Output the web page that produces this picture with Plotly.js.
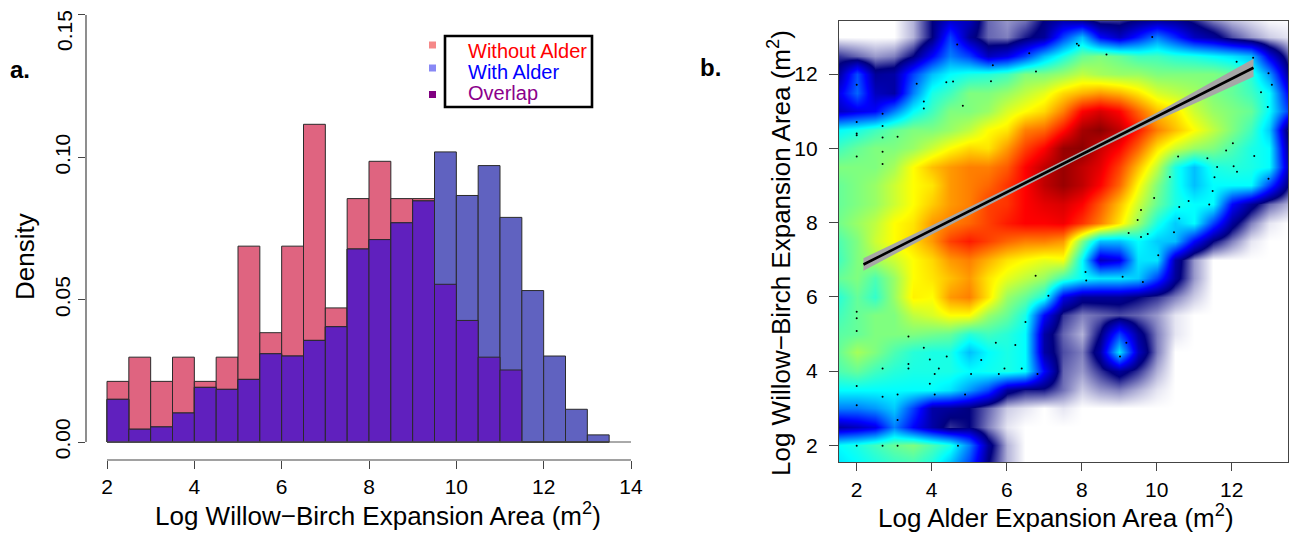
<!DOCTYPE html>
<html>
<head>
<meta charset="utf-8">
<script src="https://cdn.plot.ly/plotly-3.0.1.min.js"></script>
<style>
html,body{margin:0;padding:0;background:#fff;}
#chart{width:1289px;height:533px;}
</style>
</head>
<body>
<div id="chart"></div>
<script>
// ---------- Panel a: histogram data ----------
const binCenters = [2.25,2.75,3.25,3.75,4.25,4.75,5.25,5.75,6.25,6.75,7.25,7.75,8.25,8.75,9.25,9.75,10.25,10.75,11.25,11.75,12.25,12.75,13.25];
const withoutAlder = [0.0213,0.0298,0.0213,0.0298,0.0213,0.0298,0.0688,0.0384,0.0688,0.1116,0.0471,0.0855,0.0986,0.0855,0.0855,0.0554,0.0427,0.0298,0.0253,0,0,0,0];
const withAlder = [0.0150,0.0045,0.0053,0.0102,0.0192,0.0185,0.0220,0.0310,0.0302,0.0357,0.0405,0.0678,0.0711,0.0770,0.0847,0.1019,0.0866,0.0971,0.0789,0.0532,0.0302,0.0115,0.0025];
const histXTicks = [2,4,6,8,10,12,14];
const histYTicks = [0,0.05,0.10,0.15];
const histYTickText = ['0.00','0.05','0.10','0.15'];
const legendLabels = ['Without Alder','With Alder','Overlap'];

// ---------- Panel b: smoothed density (colour level) ----------
const gridX = [1.5,2,2.5,3,3.5,4,4.5,5,5.5,6,6.5,7,7.5,8,8.5,9,9.5,10,10.5,11,11.5,12,12.5,13,13.5];
const gridY = [1.5,2,2.5,3,3.5,4,4.5,5,5.5,6,6.5,7,7.5,8,8.5,9,9.5,10,10.5,11,11.5,12,12.5,13,13.5];
const densityLevel = [
 [3.8,4.0,4.2,4.4,4.5,4.2,3.5,2.5,1.0,0.3,0,0,0, 0,0,0,0,0,0,0,0,0,0,0,0],
 [4.0,4.2,4.5,4.8,5.0,4.6,4.2,3.0,1.2,0.3,0,0,0, 0,0,0,0,0,0,0,0,0,0,0,0],
 [1.3,1.5,1.8,3.0,2.0,1.3,0.8,1.0,0.5,0.1,0,0,0, 0,0,0,0,0,0,0,0,0,0,0,0],
 [3.0,3.0,3.2,3.6,2.5,1.3,1.2,1.0,0.6,0.2,0.1,0,0.1, 0,0,0,0,0,0,0,0,0,0,0,0],
 [4.0,4.0,4.0,4.0,4.0,4.0,3.8,3.2,2.5,1.2,0.9,0.9,0.55, 0.2,0.4,0.5,0.3,0.1,0,0,0,0,0,0,0],
 [4.6,4.8,4.5,4.3,4.2,4.2,4.2,4.0,4.1,4.2,4.0,2.0,0.6, 0.4,0.8,1.2,0.8,0.3,0,0,0,0,0,0,0],
 [4.8,5.3,5.0,4.6,4.3,4.2,4.2,3.5,4.0,4.2,4.0,1.3,0.7, 0.5,1.3,3.8,1.5,0.5,0,0,0,0,0,0,0],
 [4.7,4.8,5.0,5.0,5.0,4.9,4.8,4.3,4.5,4.3,4.0,1.3,0.6, 0.3,1.0,2.5,1.2,0.5,0.1,0,0,0,0,0,0],
 [4.5,4.8,5.0,5.0,5.5,5.7,6.0,6.0,5.2,4.8,4.2,2.0,0.8, 0.5,0.6,0.7,0.6,0.4,0.1,0,0,0,0,0,0],
 [4.3,4.8,4.4,5.2,6.1,6.0,6.8,7.0,6.2,5.2,4.8,4.2,1.8, 1.2,1.2,1.2,1.0,0.8,0.5,0.2,0,0,0,0,0],
 [4.8,5.0,4.6,5.2,6.0,6.2,6.5,6.8,6.2,5.8,5.5,5.2,4.5, 4.0,3.8,3.8,3.6,2.5,1.2,0.4,0,0,0,0,0],
 [4.5,5.0,5.3,5.6,6.0,6.3,6.8,7.0,6.6,6.2,6.0,5.8,5.9, 4.0,1.5,1.8,3.8,3.8,1.3,0.4,0,0,0,0,0],
 [4.6,5.0,5.6,6.0,6.3,6.8,7.5,7.8,7.5,7.2,7.0,7.0,6.8, 5.0,3.5,3.5,4.0,3.6,3.5,2.0,1.0,0.5,0.1,0,0],
 [4.9,5.2,5.5,6.0,6.2,6.8,7.0,7.2,7.5,7.8,8.0,8.0,8.1, 7.6,7.0,6.2,5.2,4.2,3.6,4.0,2.5,1.2,0.5,0.1,0],
 [4.8,5.0,5.2,5.6,6.0,6.4,6.8,7.0,7.5,7.6,8.0,8.2,8.3, 8.0,7.3,6.5,5.6,4.8,4.2,4.0,4.0,2.0,1.2,0.6,0.3],
 [4.8,5.0,5.2,5.6,6.0,6.2,6.8,7.0,7.2,7.6,8.0,8.5,8.8, 8.5,8.0,7.2,6.0,5.0,4.2,3.5,4.0,4.0,4.0,2.5,1.0],
 [5.0,5.0,5.0,5.3,6.0,6.5,6.8,7.0,7.0,7.3,8.0,8.5,8.8, 8.5,8.2,7.5,6.5,5.5,4.2,3.5,4.2,4.3,4.2,4.0,1.5],
 [4.5,4.8,5.0,5.0,5.2,5.6,6.0,6.3,6.2,6.8,7.5,8.0,8.8, 8.9,8.4,8.0,7.2,6.2,5.6,5.2,5.0,4.6,4.2,4.0,1.2],
 [4.0,4.2,4.5,4.8,5.0,5.0,5.2,5.5,6.0,6.2,7.0,7.2,7.9, 8.7,8.9,8.5,7.8,7.0,6.5,6.0,5.5,5.0,4.5,3.6,0.8],
 [1.5,1.8,2.0,3.0,4.0,4.5,5.0,5.0,5.2,5.7,6.0,6.3,7.0, 8.0,8.3,8.0,7.2,6.5,6.2,5.6,5.2,5.0,4.8,4.0,2.5],
 [1.8,2.8,1.5,1.3,3.0,4.2,4.5,5.0,5.0,5.2,5.5,5.8,6.3, 6.6,6.8,6.6,6.2,5.7,5.5,5.3,5.0,4.8,4.5,4.0,2.0],
 [1.2,2.6,1.2,1.3,2.5,3.5,4.0,4.2,4.3,4.5,5.0,5.0,5.2, 5.5,5.3,5.2,5.2,5.0,5.0,5.0,5.0,4.8,4.3,3.2,1.2],
 [0.8,0.6,0.4,0.5,1.0,2.0,3.0,2.5,1.5,1.8,2.5,3.5,4.2, 4.8,5.0,4.8,4.5,4.5,4.3,4.2,4.0,3.8,3.5,1.8,0.7],
 [0,0,0,0,0.3,1.0,2.5,1.2,0.6,0.5,0.9,1.2,2.5, 3.5,2.0,1.5,2.2,3.0,2.3,1.5,1.2,0.7,0.4,0.2,0.1],
 [0,0,0,0,0.3,1.0,1.5,1.5,0.6,0.4,0.5,1.0,1.2, 0.9,0.6,0.7,0.9,1.0,1.0,0.8,0.4,0.2,0.1,0,0]
];
// outlying points shown by the smoothed scatter
const ptX = [4.68,2.00,3.60,4.39,4.57,5.63,6.60,6.78,5.58,3.79,3.79,4.83,2.69,2.00,2.69,2.00,2.00,2.69,3.09,2.69,2.00,2.69,
 9.88,7.87,7.92,8.66,12.13,12.57,12.98,13.07,12.78,12.96,12.03,11.85,12.60,10.57,11.35,11.61,12.05,12.14,10.35,11.54,12.98,11.49,10.85,9.93,11.40,10.60,9.58,10.60,9.49,9.25,9.58,9.76,10.46,
 6.77,7.11,2.00,2.00,2.00,6.50,3.38,5.71,6.23,3.79,4.40,3.95,5.32,2.69,3.38,3.38,4.19,4.08,5.05,5.79,5.94,6.40,6.82,3.95,2.00,2.69,3.09,4.08,4.89,2.00,3.09,2.00,2.69,3.09,4.70,
 10.04,8.10,8.12,9.09,9.63,9.19,9.02];
const ptY = [12.80,11.71,11.74,11.78,11.80,12.24,12.56,12.07,11.81,11.26,11.07,11.15,10.93,10.71,10.60,10.40,10.35,10.29,10.31,9.91,9.78,9.58,
 13.00,12.82,12.77,12.53,12.33,12.44,12.02,11.71,11.51,11.11,10.14,9.94,9.79,9.78,9.73,9.50,9.52,9.37,9.23,9.22,9.18,8.85,8.58,8.66,8.49,8.42,8.34,8.11,8.07,7.72,7.61,7.69,7.74,
 6.57,6.03,5.60,5.42,5.08,5.32,4.93,4.76,4.70,4.63,4.39,4.31,4.30,4.07,4.19,4.07,4.07,3.92,3.92,3.92,4.07,4.07,3.92,3.66,3.60,3.31,3.37,3.37,3.37,3.08,2.68,1.99,1.99,1.99,1.99,
 7.12,6.67,6.44,6.54,6.40,4.76,4.39];
// fitted regression line and its confidence band
const fitX = [2.18,12.58];
const fitY = [6.87,12.17];
const bandX = [2.18,4,6,8,10,12.58];
const bandLo = [6.70,7.68,8.73,9.76,10.74,11.93];
const bandHi = [7.04,7.92,8.91,9.92,10.96,12.41];
const scatTicks = [2,4,6,8,10,12];

// ---------- build ----------
const W = 1289, H = 533;
const px = v => v / W;
const py = v => 1 - v / H;
const FONT = 'Liberation Sans, Arial, Helvetica, sans-serif';

const overlap = withAlder.map((v, i) => Math.min(v, withoutAlder[i]));
const barLine = {color: '#2a2a2a', width: 1};

const traces = [
  {type: 'bar', x: binCenters, y: withoutAlder, width: 0.5, marker: {color: '#DF6480', line: barLine},
   xaxis: 'x', yaxis: 'y', showlegend: false, hoverinfo: 'skip'},
  {type: 'bar', x: binCenters, y: withAlder, width: 0.5, marker: {color: '#6062C0', line: barLine},
   xaxis: 'x', yaxis: 'y', showlegend: false, hoverinfo: 'skip'},
  {type: 'bar', x: binCenters, y: overlap, width: 0.5, marker: {color: '#6020BE', line: barLine},
   xaxis: 'x', yaxis: 'y', showlegend: false, hoverinfo: 'skip'},
  {type: 'heatmap', x: gridX, y: gridY, z: densityLevel, zmin: 0, zmax: 9, zsmooth: 'best',
   colorscale: [[0,'#FFFFFF'],[1/9,'#00007F'],[2/9,'#0000FF'],[3/9,'#007FFF'],[4/9,'#00FFFF'],
                [5/9,'#7FFF7F'],[6/9,'#FFFF00'],[7/9,'#FF7F00'],[8/9,'#FF0000'],[1,'#7F0000']],
   showscale: false, xaxis: 'x2', yaxis: 'y2', hoverinfo: 'skip'},
  {type: 'scatter', mode: 'markers', x: ptX, y: ptY, marker: {color: '#000', size: 2},
   xaxis: 'x2', yaxis: 'y2', showlegend: false, hoverinfo: 'skip'},
  {type: 'scatter', mode: 'lines', x: bandX.concat(bandX.slice().reverse()), y: bandHi.concat(bandLo.slice().reverse()),
   fill: 'toself', fillcolor: '#A6A6A6', line: {width: 0}, xaxis: 'x2', yaxis: 'y2', showlegend: false, hoverinfo: 'skip'},
  {type: 'scatter', mode: 'lines', x: fitX, y: fitY, line: {color: '#000', width: 2.6},
   xaxis: 'x2', yaxis: 'y2', showlegend: false, hoverinfo: 'skip'}
];

const tickFont = {family: FONT, size: 21, color: '#000'};
const titleFont = {family: FONT, size: 26, color: '#000'};
const ann = (x, y, text, font, extra) => Object.assign({xref: 'paper', yref: 'paper', x: px(x), y: py(y),
  xanchor: 'center', yanchor: 'middle', showarrow: false, text: text, font: font}, extra || {});

const layout = {
  width: W, height: H,
  margin: {l: 0, r: 0, t: 0, b: 0},
  paper_bgcolor: '#fff', plot_bgcolor: 'rgba(0,0,0,0)',
  barmode: 'overlay', bargap: 0,
  showlegend: false,
  xaxis: {domain: [px(86), px(652)], range: [1.519, 14.481], showgrid: false, zeroline: false, showline: false,
          tickmode: 'array', tickvals: histXTicks, ticks: 'outside', ticklen: 8, tickcolor: '#444', tickwidth: 1,
          tickfont: tickFont, anchor: 'y', fixedrange: true},
  yaxis: {domain: [1 - 460 / H, 1 - 10 / H], range: [-0.00632, 0.15175], showgrid: false, zeroline: false, showline: false,
          tickmode: 'array', tickvals: histYTicks, ticktext: histYTickText.map((t, i) => i === 3 ? '' : t), tickangle: -90,
          ticks: 'outside', ticklen: 7, tickcolor: '#444', tickwidth: 1, tickfont: tickFont, anchor: 'x', fixedrange: true},
  xaxis2: {domain: [px(839), px(1288)], range: [1.528, 13.5], showgrid: false, zeroline: false,
           showline: true, mirror: true, linecolor: '#444', linewidth: 1.2,
           tickmode: 'array', tickvals: scatTicks, ticks: 'outside', ticklen: 8, tickcolor: '#444',
           ticklabelstandoff: 1, tickfont: tickFont, anchor: 'y2', fixedrange: true},
  yaxis2: {domain: [1 - 462 / H, 1 - 21 / H], range: [1.55, 13.43], showgrid: false, zeroline: false,
           showline: true, mirror: true, linecolor: '#444', linewidth: 1.2,
           tickmode: 'array', tickvals: scatTicks, ticks: 'outside', ticklen: 9, tickcolor: '#444',
           ticklabelstandoff: 7, tickfont: tickFont, anchor: 'x2', fixedrange: true},
  shapes: [
    // R-style detached axes for panel a
    {type: 'line', xref: 'x domain', yref: 'y', x0: 0, x1: 0, y0: 0, y1: 0.15, line: {color: '#444', width: 1.2}},
    {type: 'line', xref: 'x', yref: 'y domain', x0: 2, x1: 14, y0: 0, y1: 0, line: {color: '#444', width: 1.2}},
    {type: 'line', xref: 'x', yref: 'y', x0: 2, x1: 14, y0: 0, y1: 0, line: {color: '#555', width: 1}},
    // legend box and keys
    {type: 'rect', xref: 'paper', yref: 'paper', x0: px(445), x1: px(592), y0: py(107), y1: py(36),
     line: {color: '#000', width: 2.6}, fillcolor: 'rgba(0,0,0,0)'},
    {type: 'rect', xref: 'paper', yref: 'paper', x0: px(429), x1: px(436), y0: py(48.5), y1: py(41.5), line: {width: 0}, fillcolor: '#F58888'},
    {type: 'rect', xref: 'paper', yref: 'paper', x0: px(429), x1: px(436), y0: py(71.5), y1: py(64.5), line: {width: 0}, fillcolor: '#8888F5'},
    {type: 'rect', xref: 'paper', yref: 'paper', x0: px(429), x1: px(436), y0: py(98), y1: py(91), line: {width: 0}, fillcolor: '#800080'}
  ],
  annotations: [
    ann(466, 50.5, legendLabels[0], {family: FONT, size: 20, color: '#FF0000'}, {xanchor: 'left'}),
    ann(466, 71.5, legendLabels[1], {family: FONT, size: 20, color: '#0000FF'}, {xanchor: 'left'}),
    ann(466, 93, legendLabels[2], {family: FONT, size: 20, color: '#8B008B'}, {xanchor: 'left'}),
    ann(65, 31, histYTickText[3], tickFont, {textangle: -90}),
    ann(25, 256, 'Density', titleFont, {textangle: -90}),
    ann(378, 514, 'Log Willow\u2212Birch Expansion Area (m<sup>2</sup>)', titleFont),
    ann(779, 253, 'Log Willow\u2212Birch Expansion Area (m<sup>2</sup>)', titleFont, {textangle: -90}),
    ann(1055.5, 516, 'Log Alder Expansion Area (m<sup>2</sup>)', titleFont),
    ann(20, 69, '<b>a.</b>', {family: FONT, size: 24, color: '#000'}),
    ann(710, 67, '<b>b.</b>', {family: FONT, size: 24, color: '#000'})
  ]
};

Plotly.newPlot('chart', traces, layout, {displayModeBar: false, staticPlot: true});
</script>
</body>
</html>
